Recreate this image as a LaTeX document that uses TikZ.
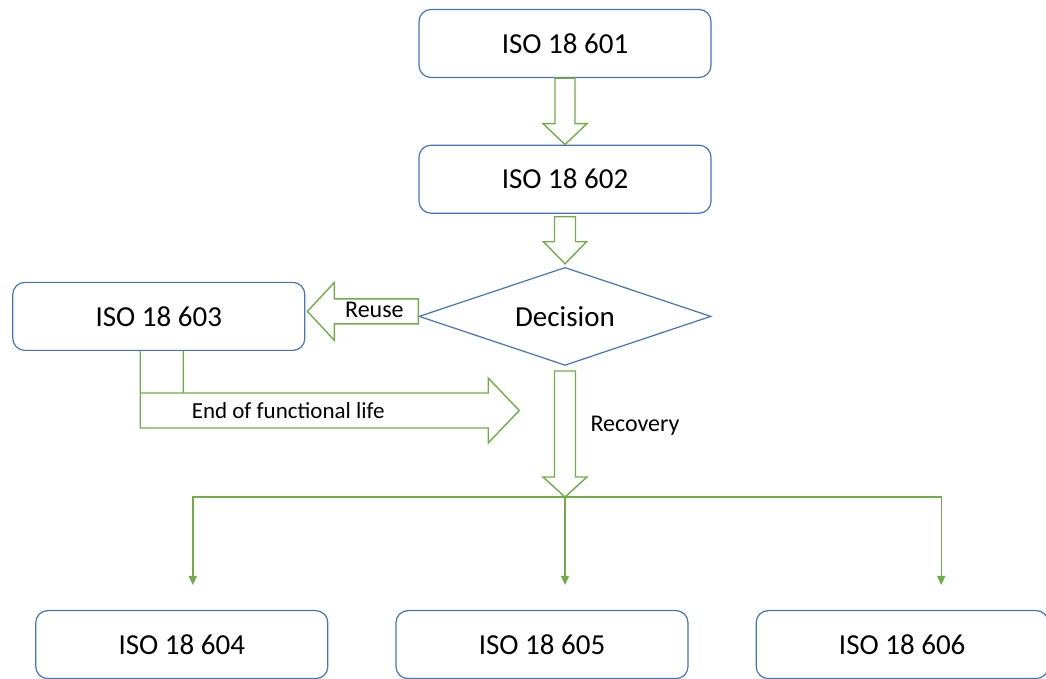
\documentclass[tikz,border=0pt]{standalone}
\usepackage{fontspec}
\setmainfont{Carlito}
\usetikzlibrary{shapes.geometric,arrows.meta,positioning,calc}
\definecolor{boxblue}{HTML}{4472C4}
\definecolor{arrowgreen}{HTML}{70AD47}

% hollow block arrows: from, to, shaft half width, head half width, head length
\newcommand{\vblock}[5]{%
  \draw[blockarrow] let \p1=(#1), \p2=(#2) in
    (\x2-#3,\y1) -- (\x2-#3,\y2+#5) -- (\x2-#4,\y2+#5) -- (\x2,\y2)
    -- (\x2+#4,\y2+#5) -- (\x2+#3,\y2+#5) -- (\x2+#3,\y1) -- cycle;}
\newcommand{\hblock}[5]{%
  \draw[blockarrow] let \p1=(#1), \p2=(#2) in
    (\x1,\y2+#3) -- (\x2+#5,\y2+#3) -- (\x2+#5,\y2+#4) -- (\x2,\y2)
    -- (\x2+#5,\y2-#4) -- (\x2+#5,\y2-#3) -- (\x1,\y2-#3) -- cycle;}

\begin{document}
\begin{tikzpicture}[
    font=\fontsize{24}{28}\selectfont,
    node distance=0mm,
    isobox/.style={draw=boxblue, rounded corners=12pt, minimum width=292pt, minimum height=68pt, align=center, line width=1.2pt, font=\fontsize{29}{34}\selectfont},
    choice/.style={diamond, aspect=3, draw=boxblue, minimum width=292pt, minimum height=98pt, inner sep=0pt, line width=1.2pt, font=\fontsize{29}{34}\selectfont},
    blockarrow/.style={draw=arrowgreen, line width=1.4pt, line join=miter},
    drop/.style={draw=arrowgreen, line width=1.4pt, -{Triangle[length=9pt, width=8pt]}}
]
\useasboundingbox (0,0) rectangle (1046pt,679pt);
\node[isobox] (n601) at (565pt,635.5pt) {ISO 18 601};
\node[isobox, below=66.5pt of n601] (n602) {ISO 18 602};
\node[choice, below=53pt of n602] (decision) {Decision};
\node[isobox, left=113pt of decision] (n603) {ISO 18 603};
\node[isobox, below=244pt of decision, xshift=-23pt] (n605) {ISO 18 605};
\node[isobox, left=67pt of n605] (n604) {ISO 18 604};
\node[isobox, right=67pt of n605] (n606) {ISO 18 606};

\vblock{n601.south}{n602.north}{10pt}{22pt}{21pt}
\vblock{[yshift=-3pt]n602.south}{[yshift=3pt]decision.north}{10.5pt}{21.5pt}{22pt}
\coordinate (branch) at ([yshift=-131pt]decision.south);
\vblock{[yshift=-5pt]decision.south}{branch}{10.5pt}{22pt}{20pt}
\hblock{decision.west}{[shift={(2pt,5pt)}]n603.east}{12.5pt}{29pt}{27pt}
\node (reuselbl) at ([shift={(-44pt,7pt)}]decision.west) {Reuse};
\node[anchor=west] (recovlbl) at ([shift={(22pt,-60pt)}]decision.south) {Recovery};

% bent arrow out of ISO 18 603
\draw[blockarrow, shift={(n603.south west)}]
  (128pt,0pt) -- (128pt,-77pt) -- (476pt,-77pt) -- (476pt,-92pt) -- (507pt,-59.5pt)
  -- (476pt,-27pt) -- (476pt,-42pt) -- (128pt,-42pt)
  (171pt,0pt) -- (171pt,-42pt);
\node[font=\fontsize{23}{27}\selectfont] (eollbl) at ([shift={(276pt,-59.5pt)}]n603.south west) {End of functional life};

\coordinate (end604) at ([shift={(11pt,25pt)}]n604.north);
\coordinate (end605) at ([shift={(23pt,25pt)}]n605.north);
\coordinate (end606) at ([shift={(39pt,25pt)}]n606.north);
\draw[drop] (branch) -| (end604);
\draw[drop] (branch) -- (end605);
\draw[drop] (branch) -| (end606);
\end{tikzpicture}
\end{document}
